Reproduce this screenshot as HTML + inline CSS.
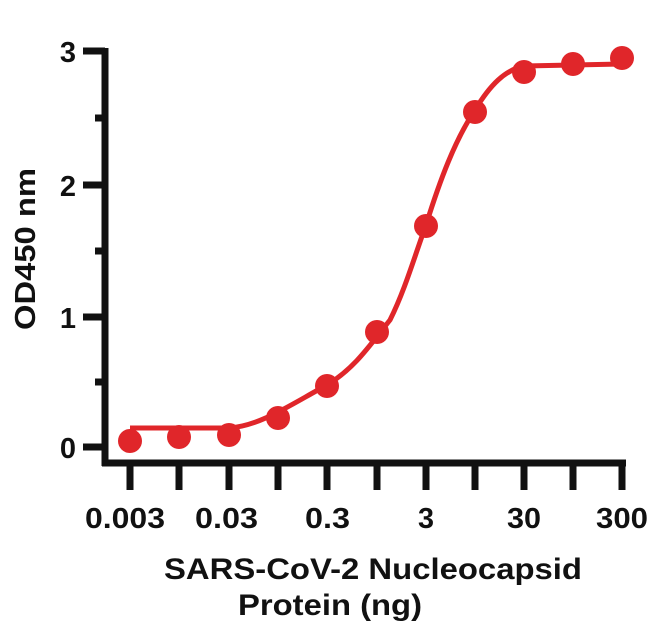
<!DOCTYPE html>
<html><head><meta charset="utf-8"><style>
html,body{margin:0;padding:0;background:#fff;}
svg{display:block;}
text{font-family:"Liberation Sans",Arial,sans-serif;font-weight:bold;fill:#111;}
</style></head><body>
<svg width="650" height="626" viewBox="0 0 650 626">
<g stroke="#111" stroke-width="7" fill="none">
<line x1="105" y1="48" x2="105" y2="466"/>
<line x1="102" y1="463" x2="626" y2="463"/>
<line x1="83" y1="51" x2="105" y2="51"/>
<line x1="83" y1="185" x2="105" y2="185"/>
<line x1="83" y1="317" x2="105" y2="317"/>
<line x1="83" y1="447" x2="105" y2="447"/>
<line x1="95" y1="118" x2="105" y2="118"/>
<line x1="95" y1="251" x2="105" y2="251"/>
<line x1="95" y1="382" x2="105" y2="382"/>
<line x1="130" y1="463" x2="130" y2="490"/>
<line x1="179" y1="463" x2="179" y2="490"/>
<line x1="229" y1="463" x2="229" y2="490"/>
<line x1="278" y1="463" x2="278" y2="490"/>
<line x1="327" y1="463" x2="327" y2="490"/>
<line x1="377" y1="463" x2="377" y2="490"/>
<line x1="426" y1="463" x2="426" y2="490"/>
<line x1="475" y1="463" x2="475" y2="490"/>
<line x1="524" y1="463" x2="524" y2="490"/>
<line x1="573" y1="463" x2="573" y2="490"/>
<line x1="622" y1="463" x2="622" y2="490"/>
</g>
<g font-size="29" text-anchor="end">
<text x="76" y="62">3</text>
<text x="76" y="196">2</text>
<text x="76" y="328">1</text>
<text x="76" y="458">0</text>
</g>
<g font-size="29">
<text x="85" y="528" textLength="80" lengthAdjust="spacingAndGlyphs">0.003</text>
<text x="195" y="528" textLength="63" lengthAdjust="spacingAndGlyphs">0.03</text>
<text x="305" y="528" textLength="45" lengthAdjust="spacingAndGlyphs">0.3</text>
<text x="418" y="528" textLength="16" lengthAdjust="spacingAndGlyphs">3</text>
<text x="507" y="528" textLength="34" lengthAdjust="spacingAndGlyphs">30</text>
<text x="596" y="528" textLength="52" lengthAdjust="spacingAndGlyphs">300</text>
</g>
<text font-size="30" x="164" y="579" textLength="418" lengthAdjust="spacingAndGlyphs">SARS-CoV-2 Nucleocapsid</text>
<text font-size="30" x="238" y="615" textLength="184" lengthAdjust="spacingAndGlyphs">Protein (ng)</text>
<text font-size="29" transform="translate(35,330) rotate(-90)" textLength="162" lengthAdjust="spacingAndGlyphs">OD450 nm</text>
<path d="M130,428 L229,428 C260,426 290,405 327,385 C355,368 370,345 390,320 C405,290 415,255 426,225 C440,180 455,140 475,110 C490,85 505,70 524,66 L622,64" stroke="#e0262a" stroke-width="5" fill="none"/>
<g fill="#e0262a">
<circle cx="130" cy="441" r="12"/>
<circle cx="179" cy="437" r="12"/>
<circle cx="229" cy="435" r="12"/>
<circle cx="278" cy="418" r="12"/>
<circle cx="327" cy="386" r="12"/>
<circle cx="377" cy="332" r="12"/>
<circle cx="426" cy="226" r="12"/>
<circle cx="475" cy="112" r="12"/>
<circle cx="524" cy="72" r="12"/>
<circle cx="573" cy="64" r="12"/>
<circle cx="622" cy="58" r="12"/>
</g>
</svg>
</body></html>
